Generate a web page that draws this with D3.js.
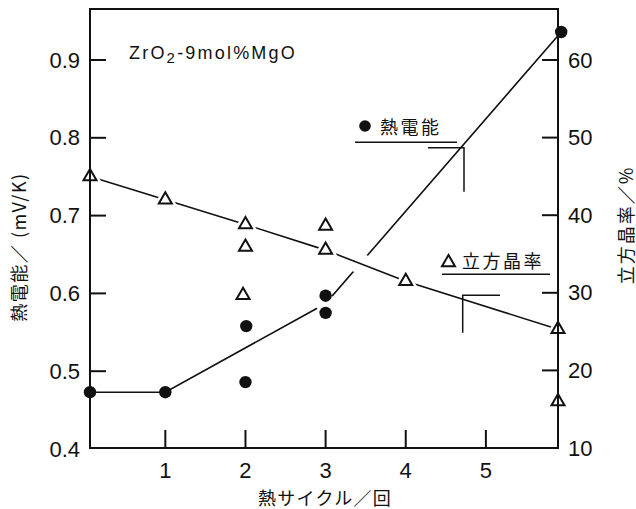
<!DOCTYPE html>
<html>
<head>
<meta charset="utf-8">
<script src="https://cdn.jsdelivr.net/npm/d3@7"></script>
<style>
  html, body { margin: 0; padding: 0; background: #fff; }
  svg { display: block; }
  .num { font-family: "Liberation Sans", Arial, sans-serif; fill: #111; }
  .jp { font-family: "Noto Sans CJK JP", "Noto Sans", sans-serif; fill: #111; }
</style>
</head>
<body>
<svg id="chart" width="636" height="509"></svg>
<script>
// Thermal cycles (x) and tick labels
const cycleTicks = [1, 2, 3, 4, 5];
const powerTicks = [0.4, 0.5, 0.6, 0.7, 0.8, 0.9];
const cubicTicks = [10, 20, 30, 40, 50, 60];

// Thermoelectric power (mV/K), filled circles
const powerX = [0.06, 1, 2.01, 2, 3, 3, 5.94];
const powerY = [0.473, 0.473, 0.558, 0.486, 0.597, 0.575, 0.936];

// Cubic phase ratio (%), open triangles
const cubicX = [0.06, 1, 2, 2, 1.97, 3, 3, 4, 5.9, 5.9];
const cubicY = [45, 42, 38.8, 35.9, 29.7, 38.6, 35.5, 31.5, 25.3, 16.0];

// Hand-drawn trend lines
const powerTrendX = [0.06, 1, 3, 5.94];
const powerTrendY = [0.473, 0.473, 0.587, 0.936];
const cubicTrendX = [0.06, 1, 2, 3, 4, 5.9];
const cubicTrendY = [45, 42, 38.8, 35.5, 31.5, 25.3];

const svg = d3.select("#chart");
const plotLeft = 90, plotRight = 558, plotTop = 9, plotBottom = 448;

const x = d3.scaleLinear().domain([0.06, 5.9]).range([plotLeft, plotRight]);
const yL = d3.scaleLinear().domain([0.4, 0.9]).range([449, 60]);
const yR = d3.scaleLinear().domain([10, 60]).range([plotBottom, 60]);

const black = "#111";

// Trend lines
const powerLine = d3.line().x(d => x(d[0])).y(d => yL(d[1]));
const cubicLine = d3.line().x(d => x(d[0])).y(d => yR(d[1]));
const powerTrend = d3.zip(powerTrendX, powerTrendY);
const cubicTrend = d3.zip(cubicTrendX, cubicTrendY);

svg.append("path").attr("d", powerLine(powerTrend))
  .attr("fill", "none").attr("stroke", black).attr("stroke-width", 1.6);

// break the power trend around bends that carry no marker
powerTrend.slice(1, -1).forEach(p => {
  const hasMarker = powerX.some((v, i) => v === p[0] && Math.abs(powerY[i] - p[1]) < 0.002);
  if (!hasMarker) {
    svg.append("circle").attr("cx", x(p[0])).attr("cy", yL(p[1])).attr("r", 10).attr("fill", "#fff");
  }
});

// cubic trend crosses over the power trend, leaving a gap in it
svg.append("path").attr("d", cubicLine(cubicTrend))
  .attr("fill", "none").attr("stroke", "#fff").attr("stroke-width", 20);
svg.append("path").attr("d", cubicLine(cubicTrend))
  .attr("fill", "none").attr("stroke", black).attr("stroke-width", 1.6);

// Markers
const tri = d3.symbol().type(d3.symbolTriangle).size(73);
const cubicPts = d3.zip(cubicX, cubicY);
svg.append("g").selectAll("path").data(cubicPts).join("path")
  .attr("transform", d => `translate(${x(d[0])},${yR(d[1])})`)
  .attr("d", tri).attr("fill", "#fff").attr("stroke", "#fff").attr("stroke-width", 7);
svg.append("g").selectAll("path").data(cubicPts).join("path")
  .attr("transform", d => `translate(${x(d[0])},${yR(d[1])})`)
  .attr("d", tri).attr("fill", "#fff").attr("stroke", black).attr("stroke-width", 2);

const powerPts = d3.zip(powerX, powerY);
svg.append("g").selectAll("circle").data(powerPts).join("circle")
  .attr("cx", d => x(d[0])).attr("cy", d => yL(d[1])).attr("r", 6.2)
  .attr("fill", black);

// Frame
svg.append("rect").attr("x", plotLeft).attr("y", plotTop)
  .attr("width", plotRight - plotLeft).attr("height", plotBottom - plotTop)
  .attr("fill", "none").attr("stroke", black).attr("stroke-width", 2);

// Left axis (thermoelectric power)
const gL = svg.append("g");
gL.selectAll("line").data(powerTicks.filter(t => t > 0.4)).join("line")
  .attr("x1", plotLeft).attr("x2", plotLeft + 16)
  .attr("y1", d => yL(d)).attr("y2", d => yL(d))
  .attr("stroke", black).attr("stroke-width", 2);
gL.selectAll("text").data(powerTicks).join("text")
  .attr("class", "num").attr("x", 80).attr("y", d => yL(d))
  .attr("text-anchor", "end").attr("dominant-baseline", "central")
  .attr("font-size", 22).text(d => d.toFixed(1));

// Right axis (cubic phase ratio)
const gR = svg.append("g");
gR.selectAll("line").data(cubicTicks.filter(t => t > 10)).join("line")
  .attr("x1", plotRight - 16).attr("x2", plotRight)
  .attr("y1", d => yR(d)).attr("y2", d => yR(d))
  .attr("stroke", black).attr("stroke-width", 2);
gR.selectAll("text").data(cubicTicks).join("text")
  .attr("class", "num").attr("x", 568).attr("y", d => yR(d))
  .attr("text-anchor", "start").attr("dominant-baseline", "central")
  .attr("font-size", 22).text(d => d);

// Bottom axis (thermal cycles)
const gB = svg.append("g");
gB.selectAll("line").data(cycleTicks).join("line")
  .attr("x1", d => x(d)).attr("x2", d => x(d))
  .attr("y1", plotBottom).attr("y2", plotBottom - 18)
  .attr("stroke", black).attr("stroke-width", 2);
gB.selectAll("text").data(cycleTicks).join("text")
  .attr("class", "num").attr("x", d => x(d)).attr("y", 470)
  .attr("text-anchor", "middle").attr("dominant-baseline", "central")
  .attr("font-size", 22).text(d => d);

// Axis titles
svg.append("text").attr("class", "jp")
  .attr("transform", "translate(18,247) rotate(-90)")
  .attr("text-anchor", "middle").attr("dominant-baseline", "central")
  .attr("font-size", 18).attr("letter-spacing", 1.5).attr("fill", black)
  .text("熱電能／ (mV/K)");
svg.append("text").attr("class", "jp")
  .attr("transform", "translate(624.5,225) rotate(-90)")
  .attr("text-anchor", "middle").attr("dominant-baseline", "central")
  .attr("font-size", 18).attr("letter-spacing", 2).attr("fill", black)
  .text("立方晶率／%");
svg.append("text").attr("class", "jp")
  .attr("x", 325).attr("y", 496.5)
  .attr("text-anchor", "middle").attr("dominant-baseline", "central")
  .attr("font-size", 18).attr("letter-spacing", 1.3).attr("fill", black)
  .text("熱サイクル／回");

// Composition label
const comp = svg.append("text").attr("class", "num")
  .attr("x", 129).attr("y", 59).attr("font-size", 18).attr("letter-spacing", 2.2);
comp.append("tspan").text("ZrO");
comp.append("tspan").attr("font-size", 15).attr("dy", 4).text("2");
comp.append("tspan").attr("dy", -4).text("-9mol%MgO");

// Legend: thermoelectric power
svg.append("circle").attr("cx", 365).attr("cy", 126).attr("r", 5.8).attr("fill", black);
svg.append("text").attr("class", "jp").attr("x", 380).attr("y", 126)
  .attr("dominant-baseline", "central").attr("font-size", 18).attr("letter-spacing", 2.5)
  .text("熱電能");
svg.append("line").attr("x1", 355).attr("x2", 457).attr("y1", 142.3).attr("y2", 142.3)
  .attr("stroke", black).attr("stroke-width", 1.5);
svg.append("polyline").attr("points", "428,147.7 464,147.7 464,191.7")
  .attr("fill", "none").attr("stroke", black).attr("stroke-width", 1.5);

// Legend: cubic phase ratio
svg.append("path").attr("transform", "translate(448.5,262.5)")
  .attr("d", tri).attr("fill", "#fff").attr("stroke", black).attr("stroke-width", 2);
svg.append("text").attr("class", "jp").attr("x", 462).attr("y", 260)
  .attr("dominant-baseline", "central").attr("font-size", 18).attr("letter-spacing", 2.5)
  .text("立方晶率");
svg.append("line").attr("x1", 442).attr("x2", 550).attr("y1", 274.3).attr("y2", 274.3)
  .attr("stroke", black).attr("stroke-width", 1.5);
svg.append("polyline").attr("points", "500,295.3 462.7,295.3 462.7,332.7")
  .attr("fill", "none").attr("stroke", black).attr("stroke-width", 1.5);
</script>
</body>
</html>
